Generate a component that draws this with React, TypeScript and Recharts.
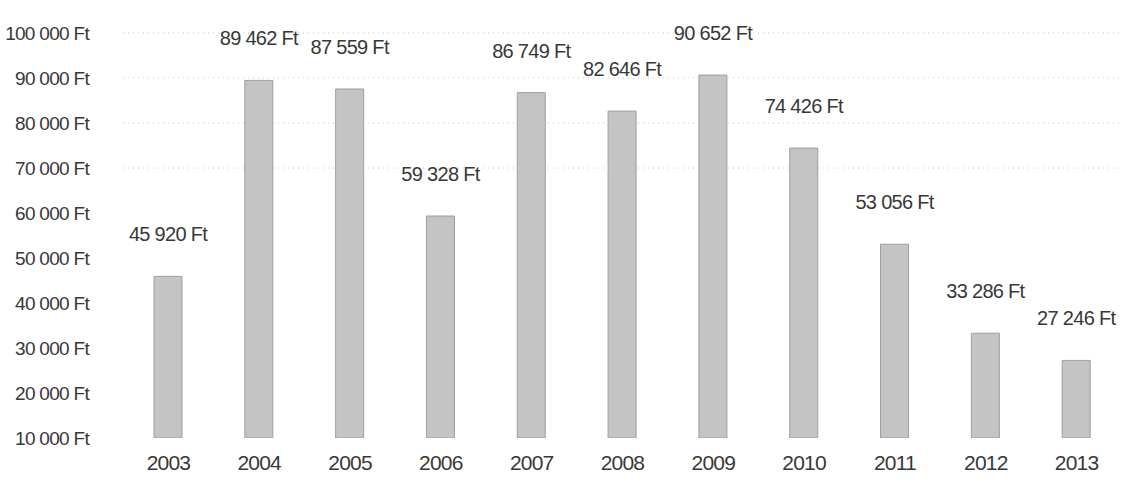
import { BarChart, Bar, XAxis, YAxis, ReferenceLine, LabelList } from "recharts"

const YEARS = ["2003", "2004", "2005", "2006", "2007", "2008", "2009", "2010", "2011", "2012", "2013"]
const AMOUNTS = [45920, 89462, 87559, 59328, 86749, 82646, 90652, 74426, 53056, 33286, 27246]
const Y_TICKS = [10000, 20000, 30000, 40000, 50000, 60000, 70000, 80000, 90000, 100000]
// only the upper grid lines survive in the scan
const GRID_LINES = [70000, 80000, 90000, 100000]

const FONT = "'Liberation Sans', Arial, sans-serif"
const INK = "#383838"

const chartData = YEARS.map((year, i) => ({ year, amount: AMOUNTS[i] }))

const formatFt = (v: number) => {
  const s = String(Math.round(v)).replace(/\B(?=(\d{3})+(?!\d))/g, " ")
  return `${s} Ft`
}

const ValueLabel = (props: any) => {
  const { x, y, width, value } = props
  return (
    <text
      x={Number(x) + Number(width) / 2}
      y={Number(y) - 35}
      textAnchor="middle"
      fill={INK}
      fontSize={20}
      fontFamily={FONT}
      letterSpacing={-0.7}
    >
      {formatFt(Number(value))}
    </text>
  )
}

export default function App() {
  return (
    <div style={{ position: "absolute", left: 0, top: 0, width: 1125, height: 485, background: "#fff" }}>
      <BarChart
        width={1125}
        height={485}
        data={chartData}
        margin={{ top: 33, right: 3, bottom: 0, left: 0 }}
        barCategoryGap={0}
      >
        {GRID_LINES.map((v) => (
          <ReferenceLine key={v} y={v} stroke="#c4c4c4" strokeDasharray="1 4" />
        ))}
        <XAxis
          dataKey="year"
          axisLine={false}
          tickLine={false}
          tickSize={0}
          tickMargin={17}
          height={47}
          tick={{ fill: INK, fontSize: 21, fontFamily: FONT, letterSpacing: -0.8 }}
        />
        <YAxis
          domain={[10000, 100000]}
          ticks={Y_TICKS}
          allowDataOverflow
          axisLine={false}
          tickLine={false}
          tickSize={0}
          tickMargin={34}
          width={123}
          tickFormatter={formatFt}
          tick={{ fill: INK, fontSize: 19, fontFamily: FONT, letterSpacing: -0.7 }}
        />
        <Bar dataKey="amount" fill="#c4c4c4" stroke="#9e9e9e" strokeWidth={1} barSize={28} isAnimationActive={false}>
          <LabelList dataKey="amount" content={ValueLabel} />
        </Bar>
      </BarChart>
    </div>
  )
}
